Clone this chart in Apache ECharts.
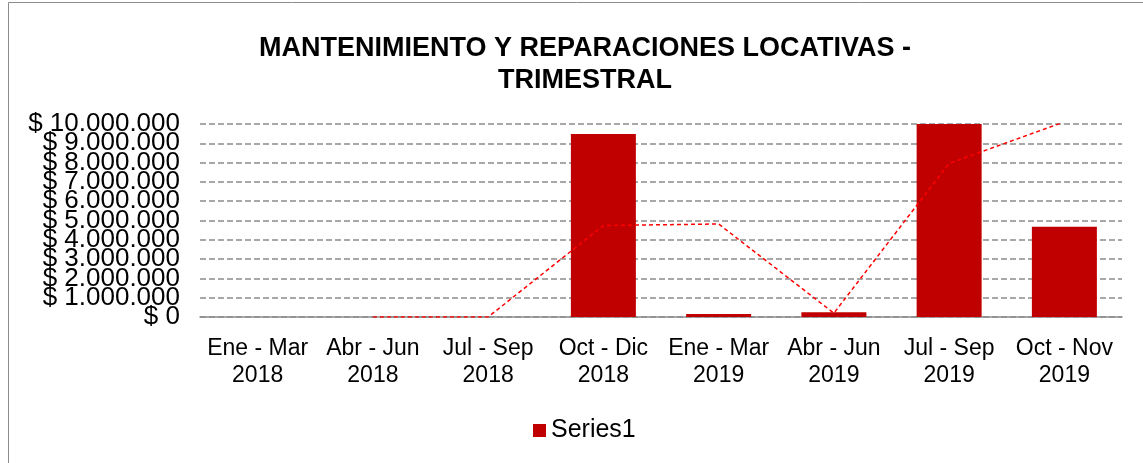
<!DOCTYPE html>
<html>
<head>
<meta charset="utf-8">
<script src="https://cdn.jsdelivr.net/npm/echarts@6/dist/echarts.min.js"></script>
<style>
  html, body { margin: 0; padding: 0; background: #fff; }
  #chart { width: 1143px; height: 463px; }
</style>
</head>
<body>
<div id="chart"></div>
<script>
// quarters (two-line labels)
const categories = [
  'Ene - Mar\n2018', 'Abr - Jun\n2018', 'Jul - Sep\n2018', 'Oct - Dic\n2018',
  'Ene - Mar\n2019', 'Abr - Jun\n2019', 'Jul - Sep\n2019', 'Oct - Nov\n2019'
]
// bar values (Jul - Sep 2019 runs past the axis top and is clipped)
const series1 = [0, 0, 0, 9480000, 150000, 250000, 15500000, 4680000]
// dashed trend line
const trendValues = [null, 0, 0, 4740000, 4820000, 200000, 7960000, 10110000]
const yMax = 10000000
const yStep = 1000000

const fmt = (v) => '$ ' + String(v).replace(/\B(?=(\d{3})+(?!\d))/g, '.')

// plot box
const plotTop = 124
const plotH = 193
const stepPx = plotH / (yMax / yStep)

const labelStyle = {
  margin: 20,
  fontFamily: 'Liberation Sans, Arial, sans-serif',
  fontSize: 26,
  color: '#000',
  formatter: fmt
}

const chart = echarts.init(document.getElementById('chart'))

// the tick labels overlap each other (as in the source), so even and odd
// ones are drawn by two label-only axes to keep ECharts from hiding any
chart.setOption({
  animation: false,
  backgroundColor: '#fff',
  graphic: [{
    type: 'rect',
    shape: { x: 8.5, y: 2.5, width: 1200, height: 500 },
    style: { fill: 'none', stroke: '#8c8c8c', lineWidth: 1 },
    silent: true,
    z: -1
  }],
  title: {
    text: 'MANTENIMIENTO Y REPARACIONES LOCATIVAS -\nTRIMESTRAL',
    left: 580,
    textAlign: 'center',
    top: 28,
    textStyle: {
      fontFamily: 'Liberation Sans, Arial, sans-serif',
      fontWeight: 'bold',
      fontSize: 27,
      lineHeight: 32,
      color: '#000'
    }
  },
  legend: {
    data: ['Series1'],
    left: 528,
    top: 413,
    icon: 'rect',
    itemWidth: 13,
    itemHeight: 13,
    itemGap: 6,
    textStyle: { fontFamily: 'Liberation Sans, Arial, sans-serif', fontSize: 25, color: '#000' }
  },
  grid: [
    { left: 200, right: 21, top: plotTop, height: plotH },
    { left: 200, right: 21, top: plotTop + stepPx, height: plotH - 2 * stepPx }
  ],
  xAxis: [
    {
      type: 'category',
      data: categories,
      axisTick: { show: false },
      axisLine: { lineStyle: { color: '#8c8c8c', width: 1.5 } },
      axisLabel: {
        interval: 0,
        margin: 18,
        fontFamily: 'Liberation Sans, Arial, sans-serif',
        fontSize: 23,
        lineHeight: 27,
        color: '#000'
      }
    },
    { type: 'category', gridIndex: 1, data: categories, show: false }
  ],
  yAxis: [
    {
      type: 'value',
      min: 0,
      max: yMax,
      interval: yStep,
      axisLine: { show: false },
      axisTick: { show: false },
      axisLabel: { show: false },
      splitLine: { lineStyle: { color: '#8c8c8c', type: [6, 3], width: 1.5 } }
    },
    {
      type: 'value',
      position: 'left',
      min: 0,
      max: yMax,
      interval: 2 * yStep,
      axisLine: { show: false },
      axisTick: { show: false },
      splitLine: { show: false },
      axisLabel: labelStyle
    },
    {
      type: 'value',
      gridIndex: 1,
      position: 'left',
      min: yStep,
      max: yMax - yStep,
      interval: 2 * yStep,
      axisLine: { show: false },
      axisTick: { show: false },
      splitLine: { show: false },
      axisLabel: labelStyle
    }
  ],
  series: [
    {
      name: 'Series1',
      type: 'bar',
      data: series1,
      barWidth: 65,
      itemStyle: { color: '#c00000' },
      clip: true
    },
    {
      name: 'trend',
      type: 'line',
      data: trendValues,
      symbol: 'none',
      clip: true,
      lineStyle: { color: '#ff0000', width: 1.5, type: [4, 3] }
    }
  ]
})
</script>
</body>
</html>
